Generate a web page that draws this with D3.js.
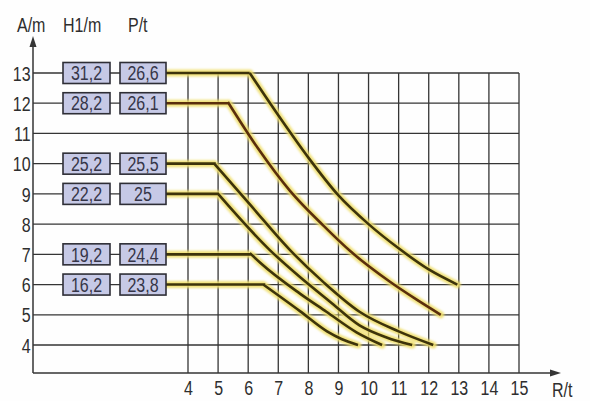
<!DOCTYPE html>
<html><head><meta charset="utf-8">
<script src="https://cdn.jsdelivr.net/npm/d3@7"></script>
<style>
body{margin:0;background:#fff}
svg{display:block}
text{font-family:"Liberation Sans",Arial,sans-serif;fill:#2e2e2e}
</style>
</head><body>
<svg id="c" width="590" height="401"></svg>
<script>
// ---- data ----
const levels = [13, 12, 10, 9, 7, 6];
const h1Labels = ["31,2", "28,2", "25,2", "22,2", "19,2", "16,2"];
const pLabels = ["26,6", "26,1", "25,5", "25", "24,4", "23,8"];
const curveR = [
  [6.05, 7, 8, 9, 10, 11, 12, 12.95],
  [5.35, 6.33, 7.39, 8.5, 9.4, 10.7, 11.6, 12.4],
  [4.87, 6.1, 7.4, 8.5, 9.7, 11, 12.15],
  [5, 6.72, 7.72, 8.7, 9.7, 10.6, 11.45],
  [6.1, 6.4, 7.72, 8.6, 9.6, 10.45],
  [6.5, 7.72, 8.62, 9.1, 9.65]
];
const curveA = [
  [13, 11.6, 10.2, 8.95, 8.0, 7.2, 6.5, 6.0],
  [12, 10.5, 9.1, 7.95, 7.1, 6.1, 5.5, 5.0],
  [10, 8.6, 7.13, 6.08, 5.1, 4.45, 4.0],
  [9, 7.14, 6.25, 5.45, 4.65, 4.25, 4.0],
  [7, 6.72, 5.7, 5.1, 4.42, 4.0],
  [6, 5.12, 4.45, 4.2, 4.0]
];
const xTicks = [4, 5, 6, 7, 8, 9, 10, 11, 12, 13, 14, 15];
const yTicks = [4, 5, 6, 7, 8, 9, 10, 11, 12, 13];

// ---- layout ----
const svg = d3.select("#c");
const x = d3.scaleLinear().domain([4, 15]).range([188, 519]);
const y = d3.scaleLinear().domain([4, 13]).range([345, 73]);
const axisX = 33, axisY = 373;
const gridCol = "#353535";
const sx = 0.8; // condensed look

svg.append("rect").attr("width", 590).attr("height", 401).attr("fill", "#fefefe");

// horizontal grid
svg.append("g").selectAll("line").data(yTicks).join("line")
  .attr("x1", axisX).attr("x2", x(15))
  .attr("y1", d => y(d)).attr("y2", d => y(d))
  .attr("stroke", gridCol).attr("stroke-width", 1.3);
// vertical grid
svg.append("g").selectAll("line").data(xTicks).join("line")
  .attr("x1", d => x(d)).attr("x2", d => x(d))
  .attr("y1", y(13)).attr("y2", axisY)
  .attr("stroke", gridCol).attr("stroke-width", 1.3);

// axes lines + arrows
svg.append("line").attr("x1", axisX).attr("x2", axisX).attr("y1", axisY).attr("y2", 44)
  .attr("stroke", gridCol).attr("stroke-width", 1.5);
svg.append("path").attr("d", `M${axisX},36 L${axisX-3.5},47 L${axisX+3.5},47Z`).attr("fill", gridCol);
svg.append("line").attr("x1", axisX).attr("x2", 552).attr("y1", axisY).attr("y2", axisY)
  .attr("stroke", gridCol).attr("stroke-width", 1.5);
svg.append("path").attr("d", `M561,${axisY} L550,${axisY-3.5} L550,${axisY+3.5}Z`).attr("fill", gridCol);

// tick labels via d3 axes
const yAx = svg.append("g").attr("transform", `translate(${axisX},0)`)
  .call(d3.axisLeft(y).tickValues(yTicks).tickSize(0).tickPadding(3).tickFormat(d3.format("d")));
yAx.select(".domain").remove();
yAx.selectAll("text").attr("font-size", 20).attr("font-family", null).attr("dy", "0.36em")
  .attr("transform", `scale(${sx},1)`);
const xAx = svg.append("g").attr("transform", `translate(0,${axisY})`)
  .call(d3.axisBottom(x).tickValues(xTicks).tickSize(0).tickPadding(8).tickFormat(d3.format("d")));
xAx.select(".domain").remove();
xAx.selectAll("text").attr("font-size", 20).attr("font-family", null)
  .attr("transform", `scale(${sx},1)`);

// header labels
function label(tx, ty, t, anchor) {
  svg.append("text").attr("transform", `translate(${tx},${ty}) scale(${sx},1)`)
    .attr("font-size", 20).attr("text-anchor", anchor || "start").text(t);
}
label(17, 32, "A/m");
label(63, 32, "H1/m");
label(128, 32, "P/t");
label(552, 397, "R/t");

// curves
const defs = svg.append("defs");
defs.append("filter").attr("id", "glow").attr("x", "-10%").attr("y", "-10%").attr("width", "120%").attr("height", "120%")
  .append("feGaussianBlur").attr("stdDeviation", 1.3);

const boxRight = 166;
const line = d3.line().x(d => x(d[0])).y(d => y(d[1])).curve(d3.curveMonotoneX);
const series = levels.map((a, i) => curveR[i].map((r, j) => [r, curveA[i][j]]));

const gGlow = svg.append("g").attr("filter", "url(#glow)");
const gCore = svg.append("g");
series.forEach((pts, i) => {
  const yy = y(levels[i]);
  const hd = `M${boxRight},${yy}L${x(pts[0][0])},${yy}`;
  const full = hd + line(pts).replace(/^M/, "L");
  gGlow.append("path").attr("d", full).attr("fill", "none").attr("stroke", "#f0df6c")
    .attr("stroke-width", 7).attr("stroke-linecap", "round").attr("stroke-linejoin", "round").attr("opacity", 0.9);
  gCore.append("path").attr("d", full).attr("fill", "none")
    .attr("stroke", i === 1 ? "#5a2e0c" : "#3d330a").attr("stroke-width", 2.6).attr("stroke-linejoin", "miter");
});

// label boxes
const gBox = svg.append("g");
levels.forEach((a, i) => {
  const yy = y(a);
  [[63, 110, h1Labels[i]], [120, 166, pLabels[i]]].forEach(([x0, x1, t]) => {
    gBox.append("rect").attr("x", x0).attr("y", yy - 10.5).attr("width", x1 - x0).attr("height", 21)
      .attr("fill", "#c6c9e6").attr("stroke", "#2e2e36").attr("stroke-width", 1.6);
    gBox.append("text").attr("transform", `translate(${(x0 + x1) / 2},${yy}) scale(${sx},1)`).attr("dy", "0.36em")
      .attr("text-anchor", "middle").attr("font-size", 20).style("fill", "#353548").text(t);
  });
});
</script>
</body></html>
